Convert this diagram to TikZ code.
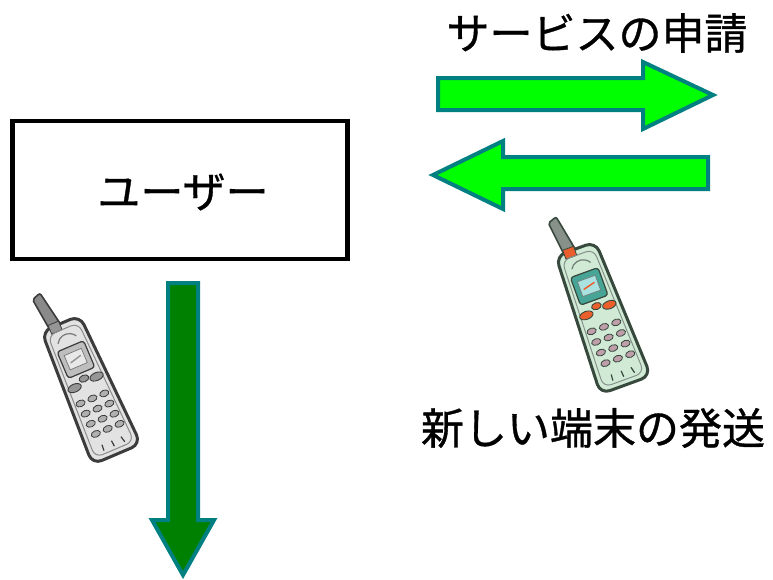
\documentclass[tikz,border=0pt]{standalone}
\usepackage{fontspec}
\newfontfamily\jpfont[FakeBold=0.8]{Noto Sans CJK JP}

\definecolor{edgeteal}{RGB}{0,128,128}
\definecolor{lightarrow}{RGB}{0,255,0}
\definecolor{darkarrow}{RGB}{0,128,0}
% old handset colours
\definecolor{oldbody}{RGB}{226,226,226}
\definecolor{oldtrim}{RGB}{60,60,60}
\definecolor{oldscreen}{RGB}{190,190,190}
\definecolor{oldglass}{RGB}{232,232,232}
\definecolor{oldkeys}{RGB}{175,175,175}
\definecolor{oldaccent}{RGB}{150,150,150}
% new handset colours
\definecolor{newbody}{RGB}{208,234,214}
\definecolor{newtrim}{RGB}{55,72,60}
\definecolor{newscreen}{RGB}{70,165,150}
\definecolor{newglass}{RGB}{170,225,225}
\definecolor{newkeys}{RGB}{190,158,168}
\definecolor{newaccent}{RGB}{235,95,45}

\tikzset{
	jptext/.style={font=\jpfont\fontsize{43}{50}\selectfont, inner sep=0pt},
	blockarrow/.style={draw=edgeteal, line width=4pt, line join=miter},
}

% handset: body, trim, screen, glass, keys, accent
\newcommand{\handset}[6]{%
	\draw[fill=#2!60!white, draw=#2, line width=1.6pt, rounded corners=2pt] (-12,66) -- (-16,100) -- (-7,103) -- (0,66) -- cycle;
	\draw[fill=#1, draw=#2, line width=3pt, rounded corners=10pt] (-20,68) -- (20,68) -- (26,-70) -- (-25,-70) -- cycle;
	\draw[fill=#6, draw=#2, line width=0.8pt] (-12,62) rectangle (-1,71);
	\draw[draw=#2!60!white, line width=1pt, rounded corners=8pt] (-16,62) -- (16,62) -- (21,-65) -- (-20,-65) -- cycle;
	\draw[#2!70!white, line width=1.2pt] (-10,51) arc (150:30:11.5pt);
	\draw[fill=#3, draw=#2, rounded corners=3pt, line width=1.2pt] (-14,44) rectangle (14,16);
	\draw[fill=#4, draw=#2!70!white, line width=0.7pt] (-9,38) rectangle (9,23);
	\draw[#6, line width=1.5pt] (-6,29) -- (6,32);
	\draw[fill=#6, draw=#2, line width=0.9pt] (-12,5) ellipse (7pt and 4pt);
	\draw[fill=#6, draw=#2, line width=0.9pt] (12,7) ellipse (7pt and 4pt);
	\draw[fill=#6, draw=#2, line width=0.9pt] (0,10) ellipse (5pt and 3.4pt);
	\foreach \r in {0,...,3}
		\foreach \c in {-1,0,1}
			\draw[fill=#5, draw=#2, line width=0.8pt] (\c*12.5+\r*0.7, -11-\r*11) ellipse (4.8pt and 3.2pt);
	\foreach \c in {-1,0,1}
		\draw[#2, line width=1.2pt] (\c*10+1,-56) -- (\c*11+1.5,-62);
}

\begin{document}
\begin{tikzpicture}[x=1pt, y=-1pt]
	\useasboundingbox (0,0) rectangle (773,579);

	% user box
	\draw (180,190) node[draw, line width=4.5pt, minimum width=335pt, minimum height=138pt](user) {};
	\draw (183,192) node[jptext](usertext) {ユーザー};

	% request / delivery labels
	\draw (597,33) node[jptext](request) {サービスの申請};
	\draw (593,428) node[jptext](delivery) {新しい端末の発送};

	% arrows
	\draw[blockarrow, fill=lightarrow] (438,78) -- (643,78) -- (643,62) -- (713,95) -- (643,129) -- (643,110) -- (438,110) -- cycle;
	\draw[blockarrow, fill=lightarrow] (708,157) -- (503,157) -- (503,141) -- (433,175) -- (503,209) -- (503,189) -- (708,189) -- cycle;
	\draw[blockarrow, fill=darkarrow] (168,283) -- (198,283) -- (198,520) -- (214,520) -- (183,575) -- (152,520) -- (168,520) -- cycle;

	% old handset
	\begin{scope}[shift={(88,388)}, x=1.03pt, y=1.03pt, rotate=23]
		\handset{oldbody}{oldtrim}{oldscreen}{oldglass}{oldkeys}{oldaccent}
	\end{scope}

	% new handset
	\begin{scope}[shift={(600,316)}, x=1.05pt, y=1.05pt, rotate=20]
		\handset{newbody}{newtrim}{newscreen}{newglass}{newkeys}{newaccent}
	\end{scope}
\end{tikzpicture}
\end{document}
